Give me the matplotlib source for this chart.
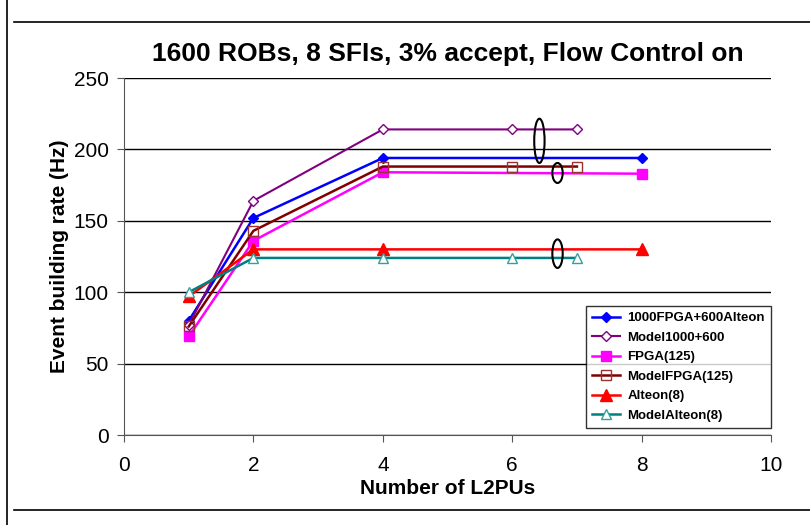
import matplotlib.pyplot as plt
from matplotlib.patches import Ellipse
from matplotlib.lines import Line2D

plt.rcParams['font.family'] = ['Liberation Sans', 'DejaVu Sans']

# data
x_meas = [1, 2, 4, 8]
x_model = [1, 2, 4, 6, 7]
fpga_alteon = [80, 152, 194, 194]
model_1000_600 = [77, 164, 214, 214, 214]
fpga125 = [69, 136, 184, 183]
model_fpga125 = [76, 143, 188, 188, 188]
alteon8 = [97, 130, 130, 130]
model_alteon8 = [100, 124, 124, 124, 124]

fig = plt.figure(figsize=(8.1, 5.25), dpi=100)
ax = fig.add_axes([0.1531, 0.1714, 0.7988, 0.68])

ax.plot(x_meas, fpga_alteon, color='blue', marker='D', ms=5, lw=1.8,
        label='1000FPGA+600Alteon')
ax.plot(x_model, model_1000_600, color='#800080', marker='D', ms=5, lw=1.5,
        mfc='white', mec='#800080', label='Model1000+600')
ax.plot(x_meas, fpga125, color='magenta', marker='s', ms=7, lw=1.8,
        label='FPGA(125)')
ax.plot(x_model, model_fpga125, color='#800000', marker='s', ms=7, lw=1.8,
        mfc='none', mec='#993333', label='ModelFPGA(125)')
ax.plot(x_meas, alteon8, color='red', marker='^', ms=8, lw=1.8,
        label='Alteon(8)')
ax.plot(x_model, model_alteon8, color='#008080', marker='^', ms=7, lw=1.8,
        mfc='white', mec='#33a0a0', label='ModelAlteon(8)')

# ellipses grouping the flat parts
for cx, cy, h in [(6.42, 206, 31), (6.7, 183.5, 14), (6.7, 127, 20)]:
    ax.add_patch(Ellipse((cx, cy), 0.16, h, fill=False, ec='black', lw=1.5, zorder=5))

ax.set_xlim(0, 10)
ax.set_ylim(0, 250)
ax.set_xticks(range(0, 11, 2))
ax.set_yticks(range(0, 251, 50))
ax.yaxis.grid(True, color='black', lw=1)
ax.set_axisbelow(True)
for s in ['top', 'right']:
    ax.spines[s].set_visible(False)
for s in ['left', 'bottom']:
    ax.spines[s].set_color('#555555')
ax.tick_params(direction='out', length=5, labelsize=15, color='#555555')
ax.tick_params(axis='x', pad=10)
ax.tick_params(axis='y', pad=6)
ax.set_xlabel('Number of L2PUs', fontsize=15, fontweight='bold', labelpad=3)
ax.set_ylabel('Event building rate (Hz)', fontsize=15, fontweight='bold', labelpad=3)
ax.set_title('1600 ROBs, 8 SFIs, 3% accept, Flow Control on', fontsize=19,
             fontweight='bold', pad=12)

leg = ax.legend(loc='lower right', bbox_to_anchor=(1.0, 0.02), borderaxespad=0,
                prop={'weight': 'bold', 'size': 9.5}, frameon=True, fancybox=False,
                edgecolor='black', handlelength=2.1, handletextpad=0.6,
                borderpad=0.45, labelspacing=0.55)
leg.get_frame().set_linewidth(1)

# outer frame lines
fig.add_artist(Line2D([7/810, 7/810], [0, 1], color='black', lw=1.2))
fig.add_artist(Line2D([14/810, 1], [1 - 22/525, 1 - 22/525], color='black', lw=1.2))
fig.add_artist(Line2D([14/810, 1], [1 - 510/525, 1 - 510/525], color='black', lw=1.2))

fig.savefig('out.png', dpi=100)
